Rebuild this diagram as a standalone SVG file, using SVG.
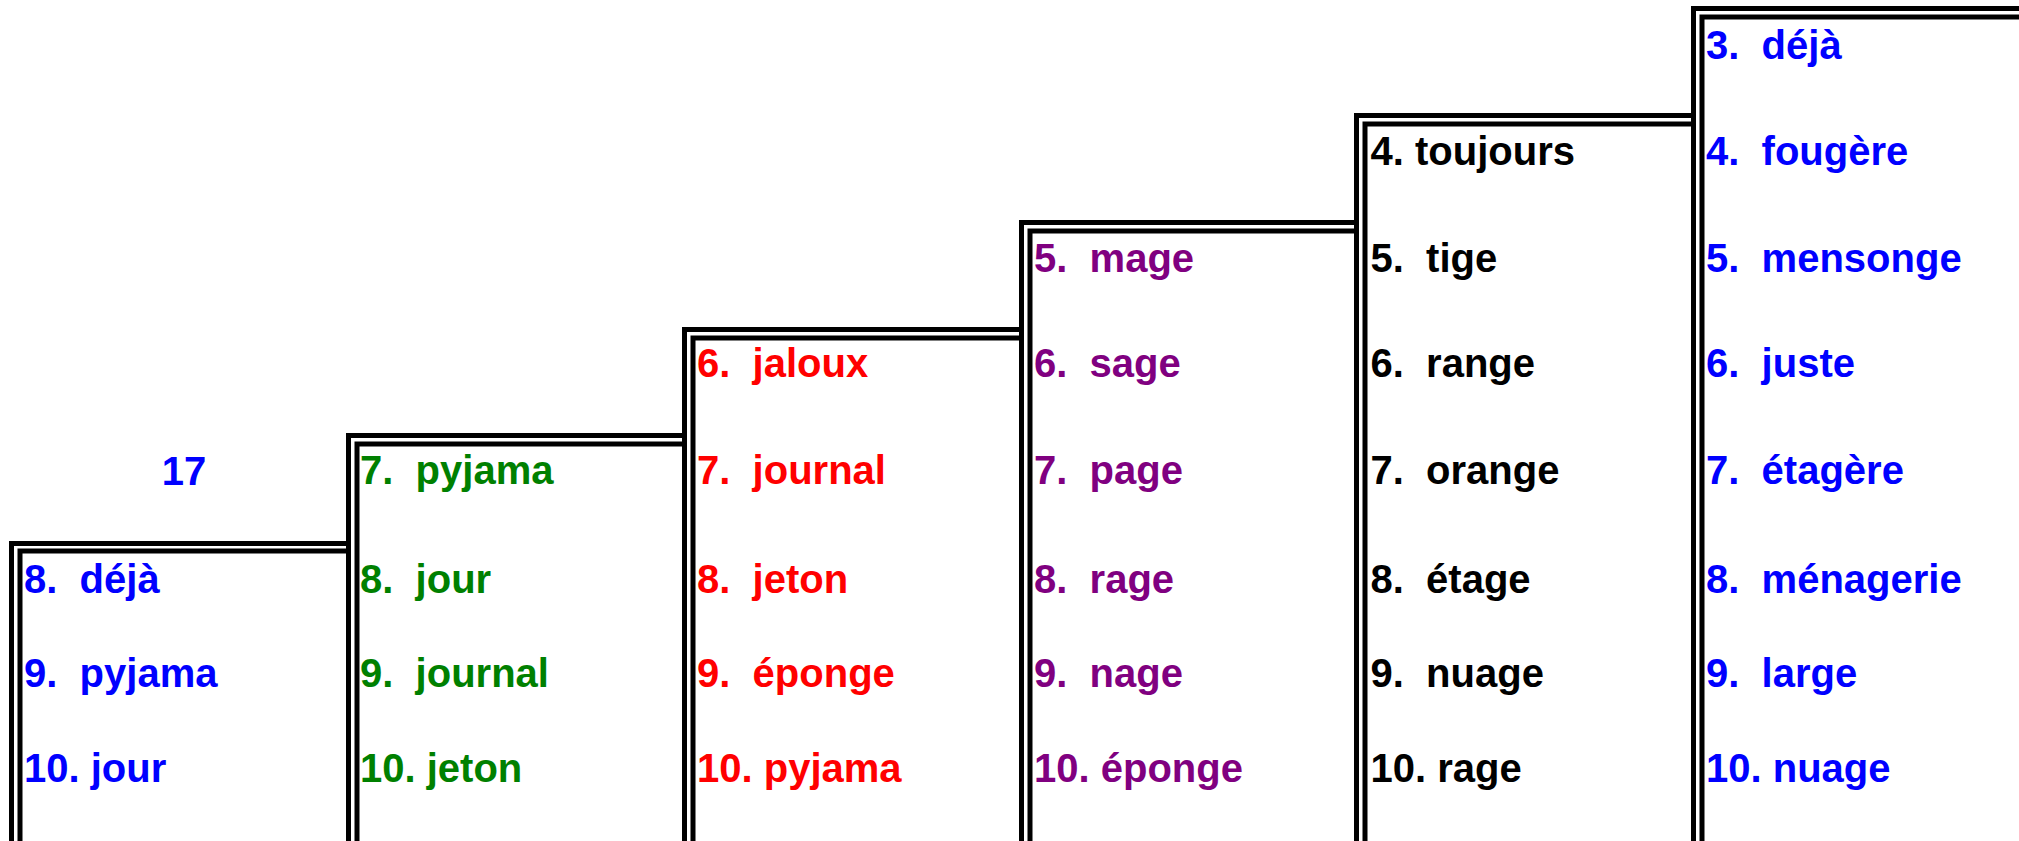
<svg xmlns="http://www.w3.org/2000/svg" width="2019" height="841" viewBox="0 0 2019 841">
<style>
.b{fill:none;stroke:#000;stroke-width:5}
text{font-family:"Liberation Sans",Arial,sans-serif;font-weight:bold;font-size:40px;white-space:pre}
.c1{fill:#0000FF}.c2{fill:#008000}.c3{fill:#FF0000}.c4{fill:#800080}.c5{fill:#000000}.c6{fill:#0000FF}
</style>
<rect width="2019" height="841" fill="#fff"/>
<g id="label17"><text class="c1" x="184" y="485" text-anchor="middle">17</text></g>
<g id="col1">
<rect class="b" x="11.5" y="543.5" width="337" height="330"/>
<rect class="b" x="20" y="551" width="328.5" height="330"/>
<text class="c1" x="24" y="592.5">8.  déjà</text>
<text class="c1" x="24" y="687">9.  pyjama</text>
<text class="c1" x="24" y="782">10. jour</text>
</g>
<g id="col2">
<rect class="b" x="348.5" y="435.5" width="336" height="440"/>
<rect class="b" x="357" y="444" width="327.5" height="440"/>
<text class="c2" x="360" y="484">7.  pyjama</text>
<text class="c2" x="360" y="592.5">8.  jour</text>
<text class="c2" x="360" y="687">9.  journal</text>
<text class="c2" x="360" y="782">10. jeton</text>
</g>
<g id="col3">
<rect class="b" x="684.5" y="329.5" width="337" height="550"/>
<rect class="b" x="693" y="338" width="328.5" height="550"/>
<text class="c3" x="697" y="377">6.  jaloux</text>
<text class="c3" x="697" y="484">7.  journal</text>
<text class="c3" x="697" y="592.5">8.  jeton</text>
<text class="c3" x="697" y="687">9.  éponge</text>
<text class="c3" x="697" y="782">10. pyjama</text>
</g>
<g id="col4">
<rect class="b" x="1021.5" y="222.5" width="335" height="660"/>
<rect class="b" x="1030" y="231" width="326.5" height="660"/>
<text class="c4" x="1034" y="272">5.  mage</text>
<text class="c4" x="1034" y="377">6.  sage</text>
<text class="c4" x="1034" y="484">7.  page</text>
<text class="c4" x="1034" y="592.5">8.  rage</text>
<text class="c4" x="1034" y="687">9.  nage</text>
<text class="c4" x="1034" y="782">10. éponge</text>
</g>
<g id="col5">
<rect class="b" x="1356.5" y="115.5" width="337" height="770"/>
<rect class="b" x="1365" y="124" width="328.5" height="770"/>
<text class="c5" x="1370.5" y="165">4. toujours</text>
<text class="c5" x="1370.5" y="272">5.  tige</text>
<text class="c5" x="1370.5" y="377">6.  range</text>
<text class="c5" x="1370.5" y="484">7.  orange</text>
<text class="c5" x="1370.5" y="592.5">8.  étage</text>
<text class="c5" x="1370.5" y="687">9.  nuage</text>
<text class="c5" x="1370.5" y="782">10. rage</text>
</g>
<g id="col6">
<rect class="b" x="1693.5" y="8.5" width="400" height="880"/>
<rect class="b" x="1702" y="17" width="400" height="880"/>
<text class="c6" x="1706" y="58.5">3.  déjà</text>
<text class="c6" x="1706" y="165">4.  fougère</text>
<text class="c6" x="1706" y="272">5.  mensonge</text>
<text class="c6" x="1706" y="377">6.  juste</text>
<text class="c6" x="1706" y="484">7.  étagère</text>
<text class="c6" x="1706" y="592.5">8.  ménagerie</text>
<text class="c6" x="1706" y="687">9.  large</text>
<text class="c6" x="1706" y="782">10. nuage</text>
</g>
<g id="connectors"></g>
</svg>
